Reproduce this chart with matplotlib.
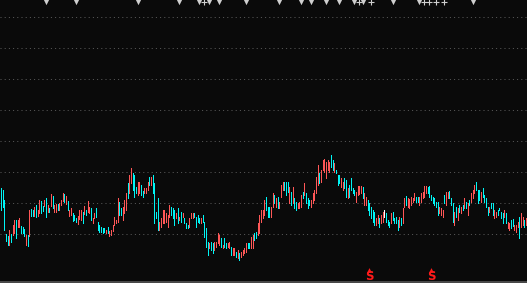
"""K线图：黑底、红涨青跌，顶部事件标记与底部卖出信号。"""

import matplotlib
matplotlib.use("Agg")
import matplotlib.pyplot as plt

# 每根K线的最高/最低价（价格单位），按时间顺序
high = [95, 93, 83, 49, 47, 53, 49, 58, 63, 63, 63, 65, 57, 56, 54, 48, 48, 73, 74, 73,
        76, 78, 73, 83, 82, 77, 83, 85, 78, 75, 89, 87, 78, 79, 79, 80, 83, 90, 89, 87,
        82, 73, 75, 70, 68, 65, 67, 73, 73, 71, 77, 73, 82, 76, 75, 65, 70, 75, 61, 58,
        56, 55, 55, 53, 56, 52, 53, 58, 66, 63, 85, 81, 75, 76, 83, 90, 100, 108, 115, 110,
        108, 96, 101, 101, 98, 92, 95, 95, 101, 106, 106, 108, 100, 71, 85, 61, 65, 73, 73, 70,
        68, 78, 76, 75, 73, 70, 75, 66, 71, 70, 65, 60, 58, 65, 70, 70, 70, 66, 68, 65,
        65, 68, 61, 55, 41, 40, 41, 40, 41, 41, 50, 48, 45, 38, 45, 40, 40, 41, 36, 35,
        35, 31, 33, 30, 31, 33, 35, 40, 40, 40, 46, 48, 50, 51, 60, 68, 73, 73, 83, 86,
        76, 76, 76, 90, 88, 85, 86, 81, 98, 101, 101, 101, 101, 96, 91, 96, 85, 81, 80, 81,
        88, 91, 100, 90, 85, 83, 83, 90, 93, 106, 118, 110, 113, 123, 124, 121, 123, 121, 128, 123,
        120, 113, 108, 108, 105, 101, 105, 103, 95, 98, 105, 95, 93, 91, 97, 97, 97, 96, 90, 86,
        83, 80, 76, 73, 71, 65, 68, 65, 68, 71, 73, 70, 63, 61, 70, 71, 65, 66, 63, 66,
        65, 75, 85, 87, 85, 84, 86, 85, 90, 86, 86, 86, 90, 91, 97, 97, 96, 97, 88, 86,
        85, 81, 81, 76, 75, 73, 88, 91, 91, 92, 85, 80, 71, 76, 75, 78, 76, 78, 85, 81,
        80, 83, 90, 93, 98, 101, 93, 93, 91, 95, 88, 85, 76, 76, 80, 80, 73, 71, 73, 75,
        71, 70, 73, 70, 61, 60, 63, 64, 58, 58, 61, 66, 70, 66, 63, 65]
low = [73, 76, 53, 42, 38, 38, 41, 48, 50, 45, 56, 56, 50, 50, 47, 38, 37, 47, 67, 67,
       67, 66, 67, 70, 70, 72, 77, 66, 71, 71, 77, 75, 71, 71, 73, 73, 78, 82, 81, 79,
       73, 67, 68, 62, 63, 61, 59, 64, 63, 60, 69, 68, 71, 70, 63, 60, 65, 66, 53, 51,
       51, 50, 51, 50, 50, 47, 48, 52, 58, 60, 61, 68, 68, 63, 70, 73, 85, 90, 100, 93,
       86, 90, 88, 90, 88, 86, 90, 90, 93, 98, 98, 90, 60, 65, 53, 53, 56, 60, 60, 61,
       56, 66, 68, 65, 58, 65, 60, 63, 61, 66, 60, 55, 55, 56, 65, 65, 66, 56, 61, 60,
       60, 61, 46, 36, 28, 35, 33, 30, 33, 36, 40, 38, 36, 35, 36, 35, 36, 35, 28, 28,
       28, 26, 25, 23, 26, 28, 30, 31, 35, 35, 35, 35, 43, 45, 48, 50, 61, 65, 68, 73,
       66, 66, 66, 76, 80, 76, 75, 75, 86, 93, 93, 88, 91, 80, 78, 80, 75, 73, 75, 75,
       76, 85, 88, 80, 75, 78, 76, 80, 83, 90, 98, 100, 101, 113, 111, 105, 113, 111, 116, 113,
       111, 110, 98, 100, 96, 93, 95, 86, 85, 86, 93, 90, 88, 81, 88, 89, 90, 85, 78, 78,
       73, 68, 65, 61, 58, 58, 60, 56, 60, 61, 66, 61, 58, 56, 60, 63, 60, 60, 53, 56,
       58, 60, 76, 78, 76, 75, 78, 81, 83, 81, 81, 78, 81, 85, 86, 90, 90, 86, 83, 80,
       78, 76, 68, 70, 68, 66, 80, 78, 85, 85, 78, 61, 58, 66, 63, 71, 70, 73, 75, 75,
       68, 78, 81, 85, 90, 93, 80, 83, 81, 86, 81, 76, 68, 71, 75, 68, 65, 66, 68, 73,
       65, 60, 66, 60, 55, 53, 55, 57, 53, 51, 56, 45, 56, 58, 56, 58]
# 涨跌方向：r=阳线(红) c=阴线(青) w=平盘(白)
direction = ("cccccrcrrcrrcccrcrcc" "rcrrccrcrcrcrrcrrrcr"
             "crrcccrrrcrcrrcrrccc" "cccrcrrrrrrccrrrcrrc"
             "ccrrccrrrcrccccrrrrr" "rrcccrcrcrcccrrrcccc"
             "rccccrccrrrrcrccrrcr" "rcrcrrrrccrrccrrrrrc"
             "ccrrcrcrrrcccrcrccrr" "rcrcccrrrrrcrrrrrrcc"
             "rcccrrccrccccrrrrcrr" "cccccrrcrrwcccrccccr"
             "crrcrrrrrccrrrrrcccc" "cccrrrcrrcccrcrcrcrc"
             "rcrrrcccrccccrccrrcc" "ccrcrrccrrrcrrcr")

# 顶部事件标记（K线序号）
event_idx = [27, 45, 82, 107, 119, 125, 131, 147, 167, 180, 186, 195, 203, 212, 217, 235, 251, 283]
event2_idx = [122, 215, 222, 254, 257, 261, 266]
# 卖出信号（K线序号）
sell_idx = [221, 258]

grid_levels = [266, 235, 204, 173, 142, 111, 80, 49]

assert len(high) == len(low) == len(direction)

BG = "#0a0a0a"
COLORS = {"r": "#ff5757", "c": "#00f5f5", "w": "#ffffff"}

n = len(high)
fig = plt.figure(figsize=(5.27, 2.83), dpi=100, facecolor=BG)
ax = fig.add_axes([0, 0, 1, 1], facecolor=BG)

ax.hlines(grid_levels, -0.5, n - 0.5, colors="#5a5a5a", linewidth=0.72,
          linestyles=(0, (1, 3.2)))
ax.axhline(0.8, color="#555555", linewidth=1.2)

xs = list(range(n))
ax.vlines(xs, low, high, colors=[COLORS[d] for d in direction],
          linewidth=0.72, antialiased=False)

ax.scatter(event_idx, [282] * len(event_idx), marker="v", s=28, color="#cfcfcf",
           linewidths=0, clip_on=True)
ax.scatter(event2_idx, [281.5] * len(event2_idx), marker="+", s=22, color="#cfcfcf",
           linewidths=0.8, clip_on=True)

ax.scatter(sell_idx, [13.5] * len(sell_idx), marker="^", s=12, color="#ff1a1a", linewidths=0)
for i in sell_idx:
    ax.text(i, 7, "S", color="#ff1a1a", fontsize=8.5, fontweight="bold",
            ha="center", va="center", family="DejaVu Sans")

ax.set_xlim(-0.5, n - 0.5)
ax.set_ylim(0, 283)
ax.axis("off")

fig.savefig("out.png", dpi=100, facecolor=BG)
